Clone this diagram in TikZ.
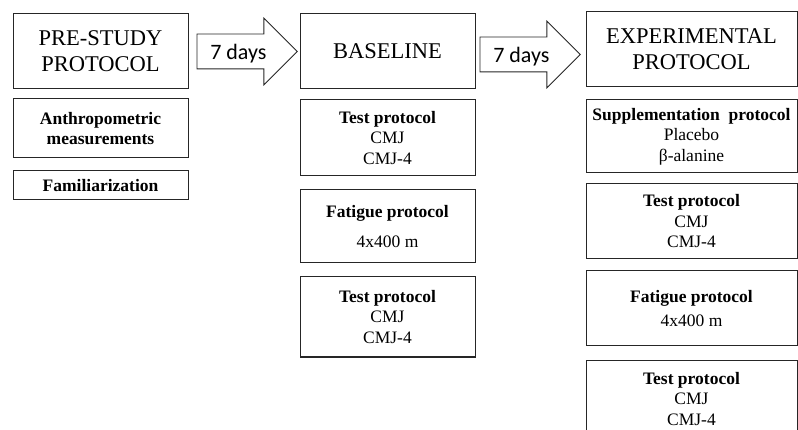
\documentclass[tikz,border=0pt]{standalone}
\usepackage{fontspec}
\setmainfont{Liberation Serif}
\newfontfamily\calibfont{Carlito}
\usepackage{tikz}
\usetikzlibrary{positioning, shapes.arrows}
\newcommand{\headsize}{\fontsize{22.5}{26}\selectfont}
\newcommand{\boxsize}{\fontsize{17.5}{20.5}\selectfont}

\begin{document}
\begin{tikzpicture}[
    x=1pt, y=-1pt,
    node distance=10pt,
    phase/.style={draw=black!85, line width=1pt, minimum width=#1, minimum height=75pt, align=center, inner sep=2pt, font=\headsize},
    task/.style={draw=black!85, line width=1pt, minimum width=#1, align=center, inner sep=2pt, font=\boxsize},
    gap/.style={single arrow, draw=black!85, line width=0.8pt, minimum height=66pt, single arrow head extend=16pt, inner xsep=13pt, inner ysep=7.5pt, text height=17.5pt, text depth=1.5pt, font=\calibfont\fontsize{22}{26}\selectfont}
]

\useasboundingbox (0,0) rectangle (798,430);

% Pre-study
\node[phase=175pt] (pre) at (100.5,51.5) {PRE-STUDY\\PROTOCOL};
\node[task=175pt, minimum height=59pt, below=9pt of pre] (anthro) {\textbf{Anthropometric}\\\textbf{measurements}};
\node[task=175pt, minimum height=29pt, below=12pt of anthro] (famil) {\textbf{Familiarization}};

% Baseline
\node[phase=175pt] (base) at (387.5,51.5) {BASELINE};
\node[task=175pt, minimum height=76pt, below=10pt of base] (basetest) {\textbf{Test protocol}\\CMJ\\CMJ-4};
\node[task=175pt, minimum height=73pt, below=13pt of basetest] (basefat) {\textbf{Fatigue protocol}\\[10pt]4x400 m};
\node[task=175pt, minimum height=80pt, below=13pt of basefat] (baseretest) {\textbf{Test protocol}\\CMJ\\CMJ-4};

% Experimental
\node[phase=211pt] (exp) at (691.5,49.5) {EXPERIMENTAL\\PROTOCOL};
\node[task=211pt, minimum height=73pt, below=12pt of exp] (supp) {\textbf{Supplementation\ \ protocol}\\Placebo\\β-alanine};
\node[task=211pt, minimum height=75pt, below=10pt of supp] (exptest) {\textbf{Test protocol}\\CMJ\\CMJ-4};
\node[task=211pt, minimum height=75pt, below=11pt of exptest] (expfat) {\textbf{Fatigue protocol}\\[3pt]4x400 m};
\node[task=211pt, minimum height=78pt, below=13pt of expfat] (expretest) {\textbf{Test protocol}\\CMJ\\CMJ-4};

% 7 day gaps
\node[gap, right=8pt of pre] (gapA) {7 days};
\node[gap, right=4pt of base, yshift=-3pt] (gapB) {7 days};

\end{tikzpicture}
\end{document}
